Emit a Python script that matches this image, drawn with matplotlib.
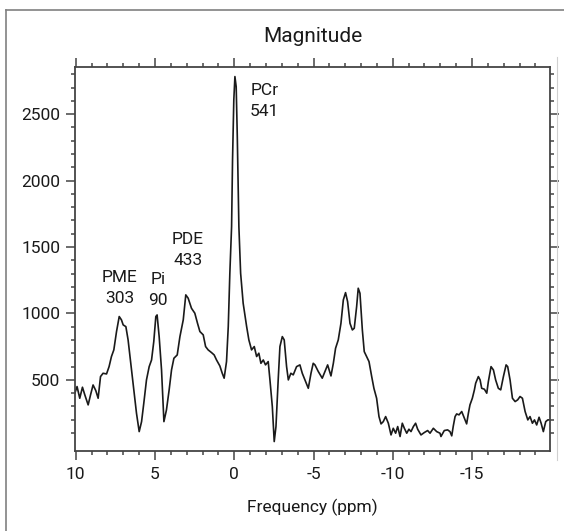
import numpy as np
import matplotlib
matplotlib.use("Agg")
import matplotlib.pyplot as plt
from matplotlib.lines import Line2D

# 31P spectrum (chemical shift in ppm, magnitude)
ppm = [10.06, 9.92, 9.75, 9.58, 9.43, 9.22, 9.07, 8.91, 8.74, 8.59,
       8.44, 8.28, 8.06, 7.90, 7.75, 7.60, 7.43, 7.26, 7.12, 7.01,
       6.84, 6.70, 6.53, 6.34, 6.17, 6.00, 5.85, 5.71, 5.54, 5.37,
       5.22, 5.08, 4.95, 4.87, 4.74, 4.59, 4.44, 4.28, 4.11, 3.96,
       3.81, 3.60, 3.43, 3.22, 3.06, 2.91, 2.70, 2.49, 2.32, 2.17,
       1.96, 1.81, 1.65, 1.44, 1.27, 1.12, 0.91, 0.76, 0.64, 0.49,
       0.38, 0.28, 0.17, 0.11, 0.03, -0.04, -0.12, -0.19, -0.29, -0.40,
       -0.56, -0.78, -0.92, -1.09, -1.26, -1.41, -1.55, -1.68, -1.83, -1.97,
       -2.14, -2.25, -2.40, -2.52, -2.63, -2.77, -2.88, -3.03, -3.15, -3.30,
       -3.41, -3.57, -3.72, -3.93, -4.14, -4.29, -4.46, -4.67, -4.84, -4.98,
       -5.09, -5.30, -5.55, -5.72, -5.89, -6.10, -6.25, -6.39, -6.56, -6.73,
       -6.88, -7.02, -7.15, -7.30, -7.45, -7.57, -7.72, -7.82, -7.93, -8.08,
       -8.20, -8.35, -8.50, -8.67, -8.81, -8.98, -9.13, -9.26, -9.40, -9.55,
       -9.72, -9.89, -10.03, -10.18, -10.31, -10.46, -10.60, -10.73, -10.88, -11.02,
       -11.15, -11.30, -11.44, -11.57, -11.78, -11.99, -12.20, -12.35, -12.56, -12.77,
       -12.98, -13.04, -13.25, -13.46, -13.61, -13.72, -13.82, -13.93, -14.03, -14.18,
       -14.35, -14.52, -14.66, -14.77, -14.87, -15.02, -15.15, -15.23, -15.40, -15.51,
       -15.61, -15.78, -15.93, -16.03, -16.20, -16.35, -16.49, -16.66, -16.81, -16.98,
       -17.15, -17.25, -17.40, -17.55, -17.72, -17.88, -18.03, -18.18, -18.35, -18.52,
       -18.66, -18.81, -18.94, -19.08, -19.23, -19.36, -19.50, -19.65, -19.78, -19.86]
magnitude = [400, 450, 362, 445, 387, 312, 387, 462, 420, 362,
             525, 550, 545, 600, 676, 726, 864, 977, 952, 914,
             901, 801, 625, 425, 249, 111, 186, 324, 500, 600,
             650, 788, 977, 989, 826, 575, 186, 274, 425, 575,
             663, 688, 826, 952, 1140, 1115, 1039, 1002, 926, 864,
             839, 751, 726, 706, 688, 650, 605, 550, 513, 638,
             901, 1303, 1654, 2156, 2607, 2783, 2707, 2331, 1654, 1303,
             1077, 901, 801, 726, 751, 676, 701, 625, 650, 613,
             638, 500, 299, 36, 149, 500, 751, 826, 801, 600,
             500, 550, 538, 600, 613, 550, 500, 437, 550, 625,
             613, 563, 513, 563, 613, 530, 625, 738, 801, 926,
             1102, 1157, 1089, 926, 876, 889, 1052, 1190, 1152, 876,
             713, 676, 638, 525, 437, 362, 224, 169, 186, 224,
             174, 86, 136, 99, 149, 74, 174, 136, 99, 129,
             111, 149, 174, 129, 86, 104, 119, 99, 136, 111,
             99, 74, 119, 124, 111, 79, 154, 224, 244, 237,
             262, 212, 169, 249, 312, 362, 425, 475, 525, 500,
             437, 430, 400, 487, 600, 575, 500, 437, 425, 525,
             613, 600, 500, 362, 337, 350, 375, 362, 262, 199,
             224, 174, 199, 161, 219, 174, 111, 186, 199, 199]

peak_names = ["PME", "Pi", "PDE", "PCr"]
peak_values = ["303", "90", "433", "541"]

plt.rcParams['font.family'] = ['Roboto', 'DejaVu Sans']
plt.rcParams['font.size'] = 12.5
plt.rcParams['axes.unicode_minus'] = False

fig = plt.figure(figsize=(5.64, 5.31), dpi=100)
ax = fig.add_axes([75/564, 1-451/531, 475/564, 384/531])

ax.plot(ppm, magnitude, color="#1a1a1a", linewidth=1.2)

ax.set_xlim(10.05, -19.92)
ax.set_ylim(-35, 2855)
ax.set_xticks([10, 5, 0, -5, -10, -15])
ax.set_xticks(np.arange(10, -20, -1), minor=True)
ax.set_yticks([500, 1000, 1500, 2000, 2500])
ax.set_yticks(np.arange(100, 2900, 100), minor=True)

spine_col = "#444444"
for s in ax.spines.values():
    s.set_color(spine_col)
    s.set_linewidth(1.3)
ax.tick_params(which='both', direction='out', top=True, right=True,
               color=spine_col, width=1.1, labelcolor="#1a1a1a")
ax.tick_params(which='major', length=6.5)
ax.tick_params(which='minor', length=3.2)
ax.tick_params(axis='y', pad=4)
ax.tick_params(axis='x', pad=5)

ax.set_title("Magnitude", y=1 + 31/384, pad=0, va='center', color="#1a1a1a")
ax.set_xlabel("Frequency (ppm)", va='center', color="#1a1a1a")
ax.xaxis.set_label_coords(0.5, -56/384)

# peak labels
label_pos = [(7.22, 1192), (4.82, 1177), (2.93, 1474), (-1.9, 2600)]
for name, val, (px, py) in zip(peak_names, peak_values, label_pos):
    ax.text(px, py, name + "\n" + val, ha='center', va='center',
            multialignment='center', linespacing=1.5, color="#1a1a1a")

# frame around the figure
fig.add_artist(Line2D([6/564, 1], [1-10/531, 1-10/531], color="#808080", linewidth=1.2))
fig.add_artist(Line2D([6/564, 6/564], [0, 1-10/531], color="#808080", linewidth=1.2))
fig.add_artist(Line2D([557/564, 557/564], [1-460/531, 1-57/531], color="#d0d0d0", linewidth=0.8))

fig.savefig("out.png", dpi=100)
